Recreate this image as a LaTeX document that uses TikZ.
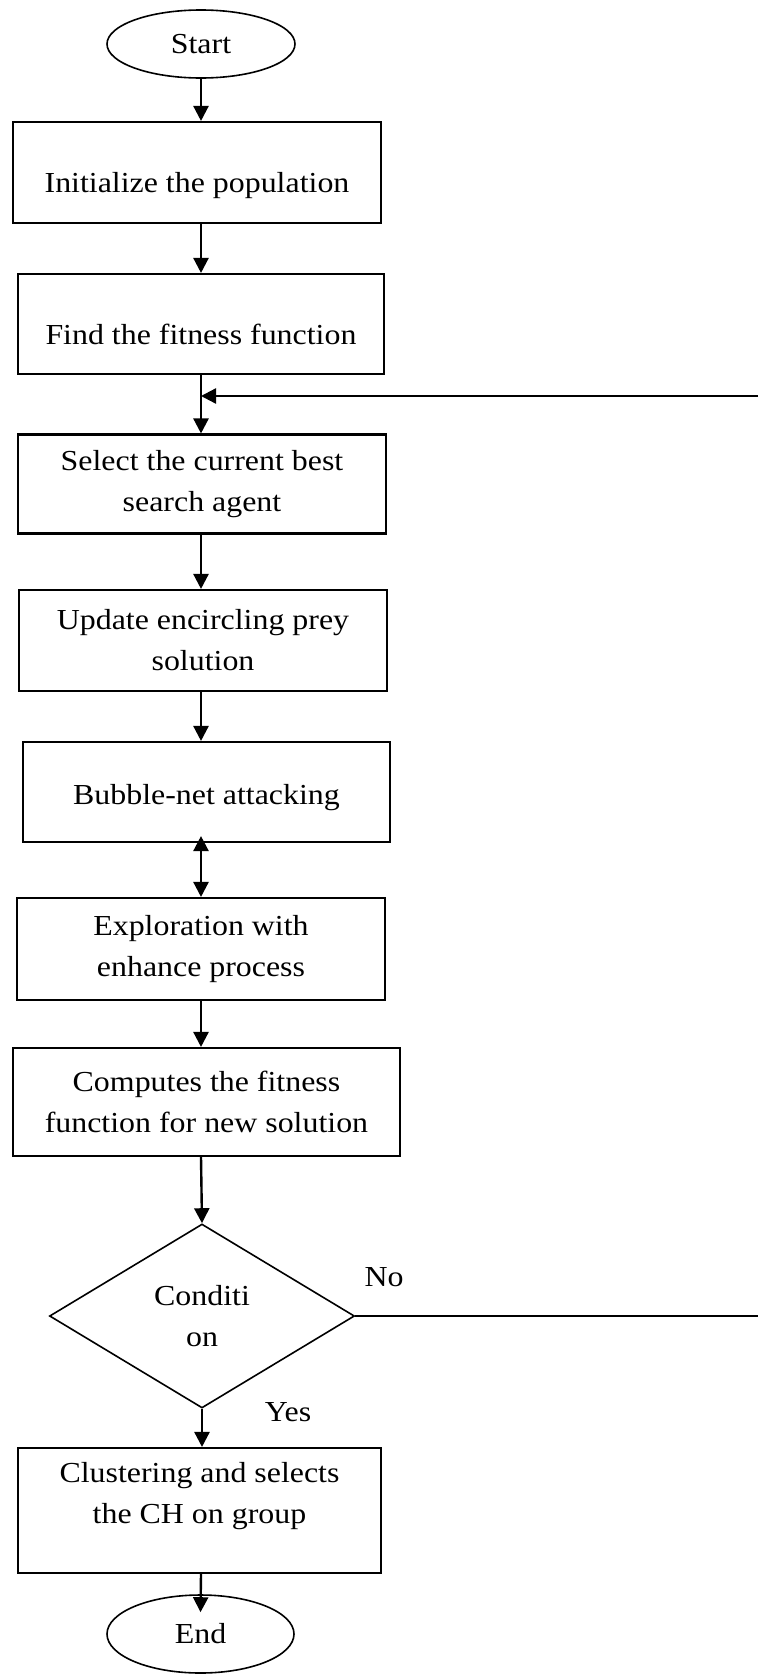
\documentclass[tikz,border=0pt]{standalone}
\usepackage{fontspec}
\setmainfont{Liberation Serif}[FakeStretch=1.1]
\usetikzlibrary{shapes.geometric,arrows.meta}
\newcommand{\lowertext}[2]{\raisebox{-#1}[\height][\depth]{#2}}
\begin{document}
\begin{tikzpicture}[x=1pt,y=-1pt,
  txt/.style={font=\fontsize{29}{41}\selectfont},
  box/.style={draw,line width=2.1pt,align=center,inner sep=0pt,txt},
  term/.style={draw,ellipse,line width=1.6pt,inner sep=0pt,txt},
  cond/.style={draw,diamond,line width=1.6pt,align=center,inner sep=0pt,txt},
  arr/.style={line width=2.4pt,-{Triangle[length=15pt,width=15pt]}},
  barr/.style={line width=2.4pt,{Triangle[length=15pt,width=15pt]}-{Triangle[length=15pt,width=15pt]}},
  plain/.style={line width=2.2pt}]
\useasboundingbox (0,0) rectangle (758,1676);
\coordinate (sp) at (201,0);
\coordinate (rt) at (758,0);

\node[term,minimum width=188pt,minimum height=68pt] (start) at (201,44) {Start};
\node[box,minimum width=368pt,minimum height=101pt] (b1) at (197,172.5) {\lowertext{13pt}{Initialize the population}};
\node[box,minimum width=366pt,minimum height=100pt] (b2) at (201,324) {\lowertext{10pt}{Find the fitness function}};
\node[box,minimum width=368pt,minimum height=99pt] (b3) at (202,484) {Select the current best\\search agent};
\node[box,minimum width=368pt,minimum height=101pt] (b4) at (203,640.5) {Update encircling prey\\solution};
\node[box,minimum width=367pt,minimum height=100pt] (b5) at (206.5,792) {\lowertext{6pt}{Bubble-net attacking}};
\node[box,minimum width=368pt,minimum height=102pt] (b6) at (201,949) {Exploration with\\enhance process};
\node[box,minimum width=387pt,minimum height=108pt] (b7) at (206.5,1102) {Computes the fitness\\function for new solution};
\node[cond,minimum width=305pt,minimum height=184pt] (c) at (202,1316) {Conditi\\on};
\node[box,minimum width=363pt,minimum height=125pt] (b8) at (199.5,1510.5) {};
\node[txt,align=center,inner sep=0pt] (b8t) at ([yshift=14pt]b8.center) {Clustering and selects\\the CH on group};
\node[term,minimum width=187pt,minimum height=78pt] (end) at (200.5,1634) {End};

\node[txt] (no) at (384,1277) {No};
\node[txt] (yes) at (288,1412) {Yes};

\coordinate (fb) at (758,396);

\draw[arr] (start.south -| sp) -- (b1.north -| sp);
\draw[arr] (b1.south -| sp) -- (b2.north -| sp);
\draw[arr] (b2.south -| sp) -- (b3.north -| sp);
\draw[arr] (fb) -- (fb -| sp);
\draw[arr] (b3.south -| sp) -- (b4.north -| sp);
\draw[arr] (b4.south -| sp) -- (b5.north -| sp);
\draw[barr] ([yshift=7pt]b5.south -| sp) -- (b6.north -| sp);
\draw[arr] (b6.south -| sp) -- (b7.north -| sp);
\draw[arr] (b7.south -| sp) -- (c.north);
\draw[plain] (c.east) -- (c.east -| rt);
\draw[arr] (c.south) -- (b8.north -| c.south);
\draw[arr] (b8.south -| sp) -- ([yshift=-18pt]end.north);
\end{tikzpicture}
\end{document}
